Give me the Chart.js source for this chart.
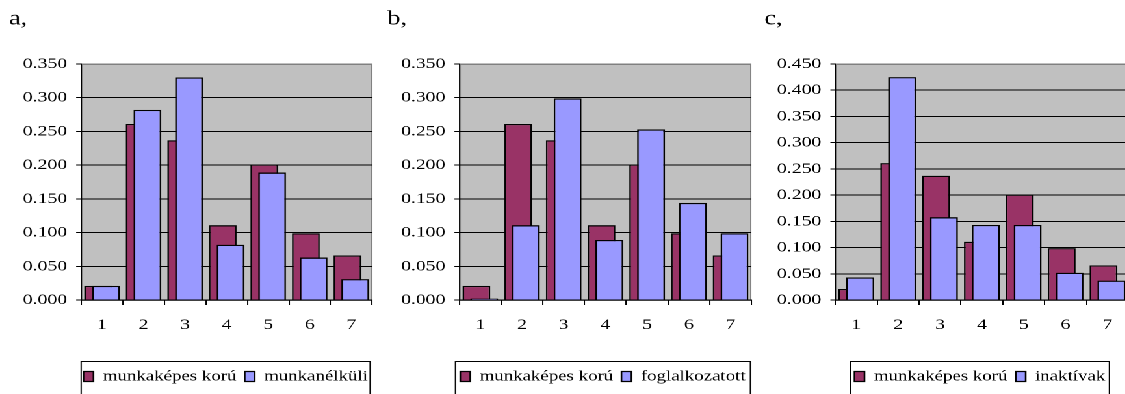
<!DOCTYPE html>
<html><head><meta charset="utf-8">
<script src="https://cdn.jsdelivr.net/npm/chart.js@4.4.1/dist/chart.umd.min.js"></script>
<style>
html,body{margin:0;padding:0;background:#fff;overflow:hidden;width:1125px;height:394px;}
#wrap{position:absolute;left:0;top:0;height:394px;transform-origin:0 0;}
.panel{position:absolute;top:0;height:394px;}
</style></head><body><div id="wrap"></div>
<script>
// ---- data ----
const categories = ['1', '2', '3', '4', '5', '6', '7'];
const munkakepesKoru = [0.021, 0.261, 0.237, 0.111, 0.201, 0.099, 0.066];
const munkanelkuli   = [0.021, 0.282, 0.330, 0.082, 0.189, 0.063, 0.031];
const foglalkozatott = [0.002, 0.111, 0.299, 0.089, 0.253, 0.144, 0.099];
const inaktivak      = [0.043, 0.425, 0.158, 0.143, 0.143, 0.052, 0.037];
const panelTitles = ['a,', 'b,', 'c,'];
const baseName = 'munkaképes korú';
const otherNames = ['munkanélküli', 'foglalkozatott', 'inaktívak'];
const otherSeries = [munkanelkuli, foglalkozatott, inaktivak];
const yMaxes = [0.35, 0.35, 0.45];
const yStep = 0.05;

// ---- layout (final pixel space) ----
const S = 1.3; // horizontal stretch of the reference
const PLOT_BOTTOM = 300;
const EXTRA_R = 30;
const panels = [
  {titleX: 9,   plotLeft: 81,  plotRight: 372,  boxLeft: 81,  boxRight: 370},
  {titleX: 387, plotLeft: 459, plotRight: 751,  boxLeft: 455, boxRight: 750},
  {titleX: 765, plotLeft: 836, plotRight: 1129, boxLeft: 851, boxRight: 1110}
];
const FAMILY = "'Liberation Serif', 'Times New Roman', serif";
const TICK_FONT = {family: FAMILY, size: 15.2};
const LEG_FONT = {family: FAMILY, size: 14.5};
const LEG_PAD = 8.3 / S;
const LEG_TEXT_MID = 376.5;
const BOX_TOP = 361;

const wrap = document.getElementById('wrap');
wrap.style.width = (1125 / S + 60) + 'px';
wrap.style.transform = 'scaleX(' + S + ')';

const framePlugin = {
  id: 'frame',
  beforeDraw(chart, args, o) {
    const a = chart.chartArea, c = chart.ctx;
    c.save();
    c.fillStyle = '#C0C0C0';
    c.fillRect(a.left, a.top, a.right - a.left, a.bottom - a.top);
    c.strokeStyle = '#808080';
    c.lineWidth = 1;
    c.strokeRect(a.left + 0.5, a.top + 0.5, a.right - a.left - 1, a.bottom - a.top);
    c.restore();
  },
  afterLayout(chart, args, o) {
    const lg = chart.legend;
    const cx = ((o.boxLeft + o.boxRight) / 2 - o.titleX) / S;
    lg.left = cx - 250; lg.right = cx + 250; lg.width = 500;
    lg.top = LEG_TEXT_MID - LEG_PAD - LEG_FONT.size / 2;
    lg.bottom = lg.top + lg.height;
  },
  beforeDatasetsDraw(chart) {
    // draw first series underneath, second on top (as in the reference)
    for (let i = 0; i < chart.data.datasets.length; i++) {
      const meta = chart.getDatasetMeta(i);
      if (meta.visible !== false) meta.controller.draw();
    }
    return false;
  },
  afterDraw(chart, args, o) {
    const c = chart.ctx;
    const l = (o.boxLeft - o.titleX) / S, r = (o.boxRight - o.titleX) / S;
    c.save();
    c.strokeStyle = '#000';
    c.lineWidth = 1;
    c.strokeRect(l, BOX_TOP + 0.5, r - l, 60);
    c.restore();
  }
};

panels.forEach((p, i) => {
  const div = document.createElement('div');
  div.className = 'panel';
  div.style.left = (p.titleX / S) + 'px';
  div.style.width = ((p.plotRight - p.titleX) / S + EXTRA_R) + 'px';
  const cv = document.createElement('canvas');
  div.appendChild(cv);
  wrap.appendChild(div);
  const yMax = yMaxes[i];
  new Chart(cv, {
    type: 'bar',
    data: {
      labels: categories,
      datasets: [
        {label: baseName, data: munkakepesKoru, backgroundColor: '#993366', borderColor: '#000', borderWidth: 1.3,
         categoryPercentage: 0.375, barPercentage: 3.56},
        {label: otherNames[i], data: otherSeries[i], backgroundColor: '#9999FF', borderColor: '#000', borderWidth: 1.3,
         categoryPercentage: 0.375, barPercentage: 3.56}
      ]
    },
    options: {
      responsive: true, maintainAspectRatio: false, animation: false, devicePixelRatio: 2,
      layout: {padding: {left: 0, top: 0, bottom: 0, right: EXTRA_R}},
      scales: {
        x: {
          ticks: {font: TICK_FONT, color: '#000', padding: 11, maxRotation: 0},
          grid: {drawOnChartArea: false, drawTicks: true, tickLength: 5, tickColor: '#000', offset: true},
          border: {color: '#000', width: 1},
          afterFit(s) { s.height = s.chart.height - PLOT_BOTTOM - (s.chart.legend ? s.chart.legend.height : 0); }
        },
        y: {
          min: 0, max: yMax,
          ticks: {stepSize: yStep, font: TICK_FONT, color: '#000', padding: 9 / S,
                  callback: v => Number(v).toFixed(3)},
          grid: {color: ctx => (ctx.tick && Math.abs(ctx.tick.value - yMax) < 1e-9) ? '#808080' : '#000',
                 tickLength: 5 / S, tickColor: '#000', lineWidth: 1},
          border: {color: '#000', width: 1},
          afterFit(s) { s.width = (p.plotLeft - p.titleX) / S; }
        }
      },
      plugins: {
        title: {display: true, text: panelTitles[i], align: 'start', color: '#000',
                font: {family: FAMILY, size: 20, weight: 'normal'}, padding: {top: 7, bottom: 64 - 7 - 20 * 1.2}},
        legend: {position: 'bottom', labels: {font: LEG_FONT, color: '#000', boxWidth: 10 / S, boxHeight: 10, padding: LEG_PAD}},
        tooltip: {enabled: false},
        frame: p
      }
    },
    plugins: [framePlugin]
  });
});
</script></body></html>
